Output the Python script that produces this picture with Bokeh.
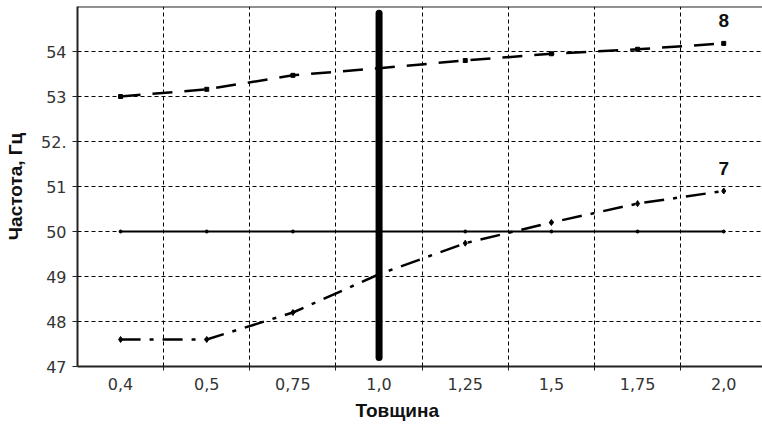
from bokeh.plotting import figure
from bokeh.models import Range1d, FixedTicker, Title, Span
from bokeh.core.properties import value
from bokeh.embed import file_html
from bokeh.resources import INLINE

# ---- data ----
categories = ["0,4", "0,5", "0,75", "1,0", "1,25", "1,5", "1,75", "2,0"]
series_8 = [53.0, 53.16, 53.47, 53.63, 53.8, 53.95, 54.05, 54.18]
series_7 = [47.6, 47.6, 48.2, 49.05, 49.74, 50.2, 50.62, 50.9]
level_50 = [50.0, 50.0, 50.0, 50.0, 50.0, 50.0, 50.0, 50.0]
y_ticks = [47, 48, 49, 50, 51, 52, 53, 54]
y_tick_labels = {52: "52."}
y_min, y_max = 47, 55
marker_category = "1,0"
marker_y = [47.2, 54.85]
series_names = ["8", "7"]

# category positions through a linear scale (category i centred at i + 0.5)
xs = [i + 0.5 for i in range(len(categories))]
bounds = [float(i) for i in range(1, len(categories))]

p = figure(width=762, height=425, output_backend="svg", toolbar_location=None,
           x_range=Range1d(0, 7.95), y_range=Range1d(y_min, y_max),
           min_border_left=77, min_border_right=0, min_border_top=6, min_border_bottom=10)
p.background_fill_color = "white"
p.border_fill_color = "white"
p.outline_line_color = None

TICK_FONT = "DejaVu Sans"
LABEL_FONT = "Liberation Sans"

# x axis: labels at category centres, small ticks at category boundaries
xax = p.xaxis[0]
xax.ticker = FixedTicker(ticks=xs, minor_ticks=bounds)
xax.major_label_overrides = {x: c for x, c in zip(xs, categories)}
xax.major_tick_line_color = None
xax.minor_tick_in = 0
xax.minor_tick_out = 4
xax.minor_tick_line_color = "#222222"
xax.minor_tick_line_width = 1
xax.axis_line_color = "#222222"
xax.axis_line_width = 2
xax.major_label_text_font = TICK_FONT
xax.major_label_text_font_size = "16px"
xax.major_label_text_color = "#333333"
xax.major_label_standoff = 5

# y axis
yax = p.yaxis[0]
yax.ticker = FixedTicker(ticks=y_ticks)
yax.major_label_overrides = y_tick_labels
yax.minor_tick_line_color = None
yax.major_tick_in = 0
yax.major_tick_out = 5
yax.major_tick_line_color = "#222222"
yax.axis_line_color = "#222222"
yax.axis_line_width = 2
yax.major_label_text_font = TICK_FONT
yax.major_label_text_font_size = "16px"
yax.major_label_text_color = "#333333"
yax.major_label_standoff = 6
yax.axis_label = "Частота, Гц"
yax.axis_label_text_font = LABEL_FONT
yax.axis_label_text_font_size = "19px"
yax.axis_label_text_font_style = "bold"
yax.axis_label_text_color = "#111111"
yax.axis_label_standoff = 12

# top border line
p.add_layout(Span(location=y_max, dimension="width", line_color="#222222", line_width=2))

# grids
p.xgrid.ticker = FixedTicker(ticks=bounds)
p.ygrid.ticker = FixedTicker(ticks=y_ticks[1:])
for g in (p.xgrid[0], p.ygrid[0]):
    g.grid_line_color = "black"
    g.grid_line_dash = "4 3"
    g.grid_line_width = 1

# x axis title, shifted left like the reference
p.add_layout(Title(text="Товщина", align="left", offset=278,
                   text_font=LABEL_FONT, text_font_size="19px",
                   text_font_style="bold", text_color="#111111"), "below")

# series 8 (dashed)
p.line(xs, series_8, line_color="black", line_width=2.5, line_dash="20 12")
p.scatter(xs, series_8, marker="square", size=4, color="black")

# series 7 (dash-dot)
p.line(xs, series_7, line_color="black", line_width=2.5, line_dash="20 9 4 9")
p.scatter(xs, series_7, marker="diamond", size=6, color="black")

# 50 Hz level
p.line(xs, level_50, line_color="black", line_width=2)
p.scatter(xs, level_50, marker="circle", size=3, color="black")

# thick vertical marker at 1,0
mx = xs[categories.index(marker_category)]
p.segment(x0=[mx], y0=[marker_y[0]], x1=[mx], y1=[marker_y[1]],
          line_color="black", line_width=7, line_cap="round")

# series labels near last points
p.text(x=[xs[-1], xs[-1]], y=[series_8[-1], series_7[-1]], text=series_names,
       text_align="center", text_baseline="bottom", y_offset=-16,
       text_font=value(LABEL_FONT), text_font_size="19px", text_font_style="bold",
       text_color="#111111")

open("out.html", "w").write(file_html(p, INLINE))
